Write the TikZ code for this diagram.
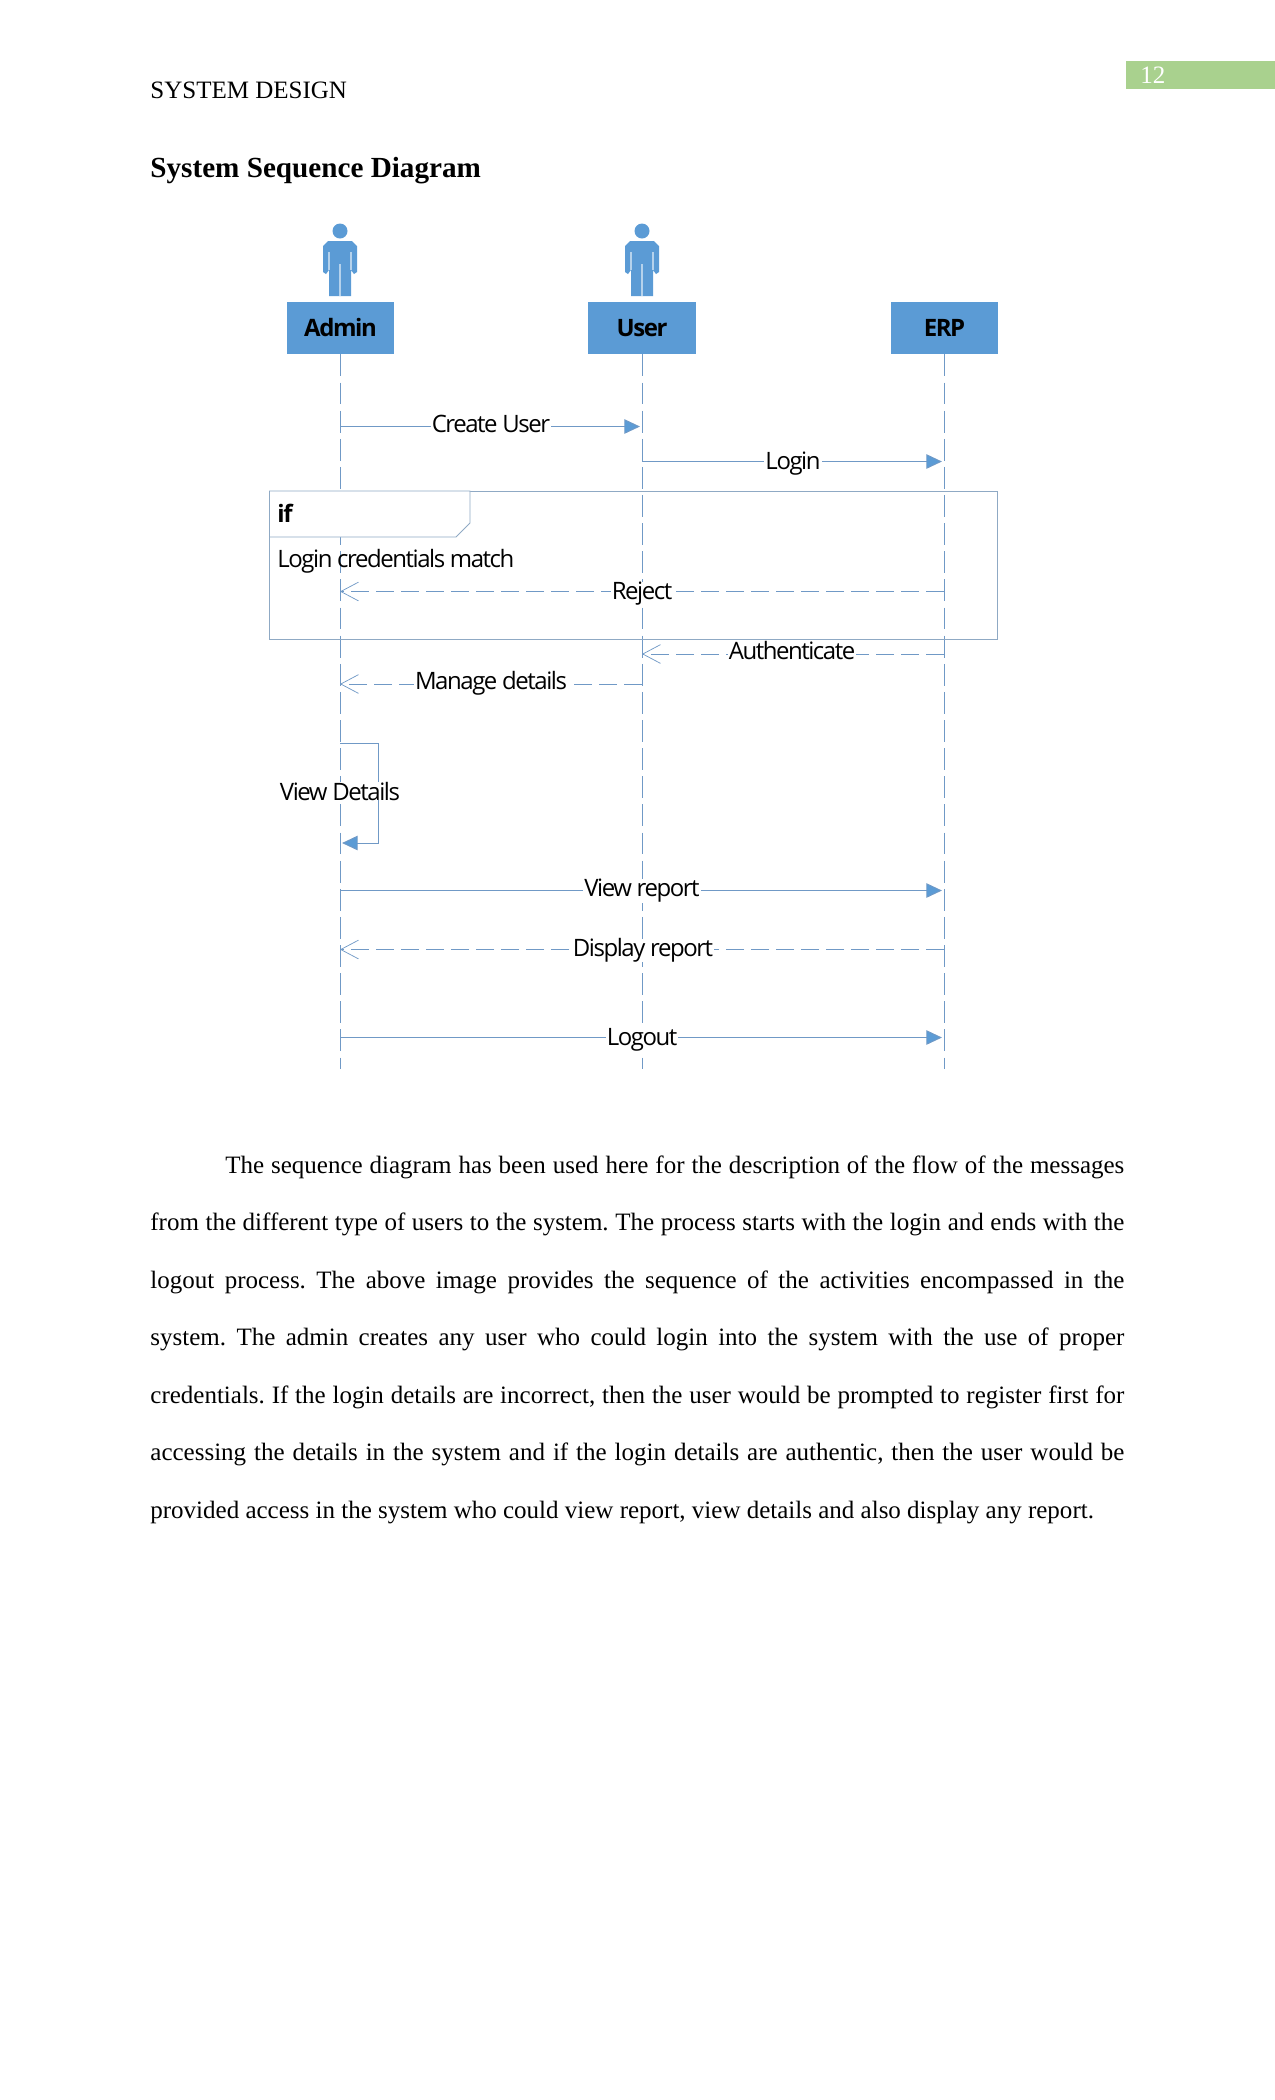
\documentclass[tikz,border=0pt]{standalone}
\usepackage{fontspec}
\usepackage{xcolor}
\setmainfont{Liberation Serif}
\newfontfamily\umlfont[LetterSpace=-6]{Open Sans}
\usetikzlibrary{arrows.meta}
\definecolor{umlblue}{HTML}{5B9BD5}
\definecolor{umlline}{HTML}{7099C6}
\definecolor{framegray}{HTML}{8FA9C4}
\definecolor{pagegreen}{HTML}{A9D18E}
\begin{document}
\begin{tikzpicture}[x=0.48pt,y=-0.48pt]
\tikzstyle{lifeline} = [umlline,line width=0.4pt,dash pattern=on 10.5pt off 3pt]
\tikzstyle{actorbox} = [fill=umlblue,minimum width=51.4pt,minimum height=25pt,inner sep=0pt,font=\umlfont\bfseries\fontsize{11.5}{12}\selectfont]
\tikzstyle{call} = [umlline,line width=0.45pt,shorten >=1pt,-{Triangle[length=7.5pt,width=7pt,fill=umlblue]}]
\tikzstyle{reply} = [umlline,line width=0.45pt,dash pattern=on 8.6pt off 3.4pt,-{Straight Barb[length=8.5pt,width=9pt,line width=0.35pt]}]
\tikzstyle{msglabel} = [fill=white,inner xsep=0.5pt,inner ysep=0pt,font=\umlfont\fontsize{11.5}{12}\selectfont]
\useasboundingbox (0,0) rectangle (1275,2100);

%page header
\fill[pagegreen] (1125.5,61) rectangle (1275,89);
\node[white,anchor=base west,inner sep=0pt,font=\fontsize{12}{14}\selectfont] (pagenum) at (1140,83) {12};
\node[anchor=base west,inner sep=0pt,font=\fontsize{12}{14}\selectfont] (header) at (150,98) {SYSTEM DESIGN};
\node[anchor=base west,inner sep=0pt,font=\bfseries\fontsize{14}{16}\selectfont] (title) at (150,177.5) {System Sequence Diagram};

%actor boxes
\node[actorbox] (admin) at (340.5,328) {Admin};
\node[actorbox] (user) at (642,328) {User};
\node[actorbox] (erp) at (944.5,328) {ERP};

%actor figures
\foreach \x in {340,642}{
  \fill[umlblue] (\x,231) circle (7.5);
  \fill[umlblue,shift={(\x,0)}] (-12,241)--(12,241)--(17,246)--(17,272)--(14,274)--(11,270)--(11,296)--(-11,296)--(-11,270)--(-14,274)--(-17,272)--(-17,246)--cycle;
  \draw[umlblue!45!white,line width=0.5pt,shift={(\x,0)}] (0,264)--(0,296) (-11,252)--(-11,270) (11,252)--(11,270);
}

%lifelines
\coordinate (adminend) at (340,1069);
\coordinate (userend) at (642.5,1069);
\coordinate (erpend) at (944,1069);
\draw[lifeline] (admin.south -| adminend)--(adminend);
\draw[lifeline] (user.south -| userend)--(userend);
\draw[lifeline] (erp.south -| erpend)--(erpend);

%if frame
\draw[framegray,line width=0.4pt] (269.5,491) rectangle (997.5,639);
\fill[white,draw=framegray,line width=0.4pt] (269.5,491)--(470,491)--(470,523)--(456,537)--(269.5,537)--cycle;
\node[anchor=west,inner sep=0pt,font=\umlfont\bfseries\fontsize{11.5}{12}\selectfont] (iflabel) at (277,513) {if};
\node[anchor=west,inner sep=0pt,font=\umlfont\fontsize{11.5}{12}\selectfont] (guard) at (277,561) {Login credentials match};

%messages
\coordinate (createa) at (340,426.5);
\coordinate (createb) at (642,426.5);
\draw[call] (createa)--(createb);
\node[msglabel] (createlabel) at (491,424) {Create User};

\coordinate (logina) at (642,461.5);
\coordinate (loginb) at (944,461.5);
\draw[call] (logina)--(loginb);
\node[msglabel] (loginlabel) at (793,463.5) {Login};

\coordinate (rejecta) at (944,591.5);
\coordinate (rejectb) at (340,591.5);
\draw[reply] (rejecta)--(rejectb);
\node[msglabel] (rejectlabel) at (642,594) {Reject};

\coordinate (autha) at (944,654);
\coordinate (authb) at (642,654);
\draw[reply] (autha)--(authb);
\node[msglabel] (authlabel) at (792,651) {Authenticate};

\coordinate (managea) at (642,684);
\coordinate (manageb) at (340,684);
\draw[reply] (managea)--(manageb);
\node[msglabel] (managelabel) at (491,683.5) {Manage details};

\coordinate (viewa) at (340,743);
\coordinate (viewb) at (378,743);
\coordinate (viewc) at (378,843);
\coordinate (viewd) at (340,843);
\draw[call] (viewa)--(viewb)--(viewc)--(viewd);
\node[msglabel,inner xsep=3pt] (viewlabel) at (340,791) {View Details};

\coordinate (reporta) at (340,890.5);
\coordinate (reportb) at (944,890.5);
\draw[call] (reporta)--(reportb);
\node[msglabel] (reportlabel) at (642,891) {View report};

\coordinate (displaya) at (944,949.5);
\coordinate (displayb) at (340,949.5);
\draw[reply] (displaya)--(displayb);
\node[msglabel] (displaylabel) at (643,950.5) {Display report};

\coordinate (logouta) at (340,1037.5);
\coordinate (logoutb) at (944,1037.5);
\draw[call] (logouta)--(logoutb);
\node[msglabel] (logoutlabel) at (642,1040) {Logout};

%paragraph
\node[anchor=north west,inner sep=0pt,text width=467.5pt,align=justify] (para) at (150,1155) {\fontsize{12}{27.6}\selectfont\frenchspacing
\hspace*{36pt}The sequence diagram has been used here for the description of the flow of the messages\linebreak
from the different type of users to the system. The process starts with the login and ends with the\linebreak
logout process. The above image provides the sequence of the activities encompassed in the\linebreak
system. The admin creates any user who could login into the system with the use of proper\linebreak
credentials. If the login details are incorrect, then the user would be prompted to register first for\linebreak
accessing the details in the system and if the login details are authentic, then the user would be\linebreak
provided access in the system who could view report, view details and also display any report.\par};
\end{tikzpicture}
\end{document}
